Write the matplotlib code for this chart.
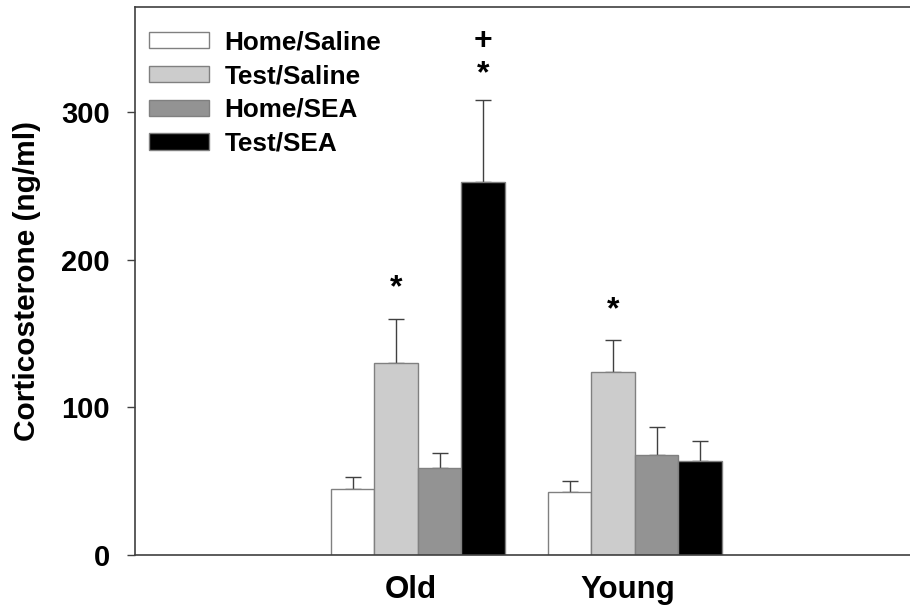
import numpy as np
import matplotlib.pyplot as plt
import matplotlib.transforms as mtransforms
from matplotlib.patches import Patch

plt.rcParams['font.family'] = ['Liberation Sans', 'DejaVu Sans']
plt.rcParams['font.weight'] = 'bold'

groups = ['Old', 'Young']
series = ['Home/Saline', 'Test/Saline', 'Home/SEA', 'Test/SEA']
means = {
    'Home/Saline': [45, 43],
    'Test/Saline': [130, 124],
    'Home/SEA': [59, 68],
    'Test/SEA': [253, 64],
}
errors = {
    'Home/Saline': [8, 7],
    'Test/Saline': [30, 22],
    'Home/SEA': [10, 19],
    'Test/SEA': [55, 13],
}
colors = ['#ffffff', '#cccccc', '#939393', '#000000']

# significance marks: (group index, series index, y, text)
marks = [(0, 1, 181, '*'), (1, 1, 166, '*'), (0, 3, 326, '*'), (0, 3, 348, '+')]

fig = plt.figure(figsize=(9.1, 6.1), dpi=100)
ax = fig.add_axes([0.148, 0.090, 0.852, 0.898])

x = np.array([1.0, 2.0])
width = 0.2
offsets = [-0.3, -0.1, 0.1, 0.3]

for s, col, off in zip(series, colors, offsets):
    ax.bar(x + off, means[s], width, color=col, edgecolor='#808080', linewidth=1.0, zorder=2)
    ax.errorbar(x + off, means[s], yerr=[np.zeros(2), errors[s]], fmt='none',
                ecolor='#404040', elinewidth=1.0, capsize=6, capthick=1.0, zorder=1)

for g, si, y, t in marks:
    ax.text(x[g] + offsets[si], y, t, ha='center', va='center', fontsize=23, fontweight='bold')

ax.set_xlim(-0.304, 3.267)
ax.set_ylim(0, 371)
ax.set_yticks([0, 100, 200, 300])
ax.tick_params(axis='y', labelsize=21, length=6, width=1, color='#404040', direction='out', pad=12)
ax.set_xticks(x)
ax.set_xticklabels(groups)
ax.tick_params(axis='x', labelsize=22.5, length=0, pad=14)
# group labels sit a little left of the group centre in the original
shift = mtransforms.ScaledTranslation(-7 / 100, 0, fig.dpi_scale_trans)
for lbl in ax.get_xticklabels():
    lbl.set_transform(lbl.get_transform() + shift)
ax.set_ylabel('Corticosterone (ng/ml)', fontsize=21.5, fontweight='bold', labelpad=14)

for side in ['left', 'bottom', 'top']:
    ax.spines[side].set_color('#404040')
    ax.spines[side].set_linewidth(1.2)
ax.spines['right'].set_visible(False)

handles = [Patch(facecolor=c, edgecolor='#808080', linewidth=1.0) for c in colors]
ax.legend(handles, series, loc='upper left', bbox_to_anchor=(0.019, 0.958), frameon=False,
          handlelength=2.3, handleheight=0.57, handletextpad=0.57,
          labelspacing=0.375, borderaxespad=0, borderpad=0,
          prop={'weight': 'bold', 'size': 18.8})

fig.savefig('out.png', dpi=100)
